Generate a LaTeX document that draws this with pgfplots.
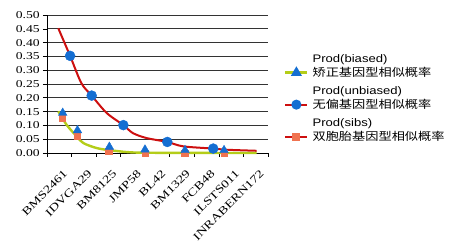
\documentclass[border=0pt]{standalone}
\usepackage{fontspec}
\usepackage{graphicx}
\setmainfont{Liberation Serif}
\newfontfamily\tickfont[FakeStretch=1.3]{Liberation Serif}
\newfontfamily\cjk{Noto Sans CJK SC}
\newfontfamily\lsans[FakeStretch=1.2]{Liberation Sans}
\newcommand\zh[1]{\scalebox{1.2}[1]{\cjk\fontsize{11}{11}\selectfont #1}}
\newcommand\la[1]{{\lsans\fontsize{10.9}{11}\selectfont #1}}
\newcommand\entry[2]{\hspace{3pt}\shortstack[l]{\la{#1}\\\zh{#2}}}
\usepackage{pgfplots}
\pgfplotsset{compat=1.18}
\definecolor{cred}{RGB}{205,15,15}
\definecolor{cyg}{RGB}{180,205,25}
\definecolor{cblue}{RGB}{20,110,210}
\definecolor{corange}{RGB}{240,115,80}
\begin{document}
\begin{tikzpicture}
\begin{axis}[
  name=ax,
  scale only axis, width=221pt, height=138pt,
  xmin=0, xmax=9, ymin=0, ymax=0.5,
  axis lines=left, axis line style={-, black, line width=0.8pt},
  tick align=outside,
  clip=false,
  ytick={0,0.05,...,0.5},
  yticklabel style={/pgf/number format/fixed,/pgf/number format/precision=2,/pgf/number format/fixed zerofill, font=\tickfont\fontsize{10.5}{11}\selectfont, inner sep=1pt, xshift=-2pt},
  /pgf/number format/assume math mode=true,
  ymajorgrids, grid style={black!80, line width=0.8pt},
  y tick style={black, line width=0.6pt},
  major tick length=4pt,
  xtick={0.5,1.5,...,8.5},
  xticklabels={BMS2461,IDVGA29,BM8125,JMP58,BL42,BM1329,FCB48,ILSTS011,INRABERN172},
  major x tick style={draw=none},
  minor xtick={0,1,...,9},
  minor x tick style={black, line width=0.6pt},
  minor tick length=4pt,
  xticklabel style={rotate=45, anchor=north east, font=\tickfont\fontsize{11}{11}\selectfont, inner sep=1pt, xshift=-5pt, yshift=-10pt},
  legend style={draw=none, fill=none, at={(1,1)}, anchor=north west, xshift=15pt, yshift=-37pt, row sep=6pt, inner sep=1pt, nodes={inner sep=1pt}, cells={anchor=base west}},
  legend image code/.code={\draw[#1] (0pt,4pt) -- (22pt,4pt); \draw[#1, mark repeat=2, mark phase=2] plot coordinates {(0pt,4pt)(11pt,4pt)(22pt,4pt)};},
]
\addplot[cred, line width=2pt, smooth, forget plot] coordinates {
(0.46,0.452)(0.94,0.352)(1.4,0.253)(1.82,0.208)(2.43,0.145)(3.11,0.101)(3.5,0.072)(4.06,0.054)(4.9,0.040)(5.55,0.024)(6.77,0.016)(7.25,0.012)(8.54,0.008)};
\addplot[cyg, line width=2.4pt, smooth, forget plot] coordinates {
(0.46,0.151)(0.80,0.102)(1.21,0.06)(1.48,0.036)(2.02,0.018)(2.57,0.010)(3.5,0.002)(5,0.0005)(8.54,0.0)};
\addplot[only marks, mark=square*, mark size=3.2pt, color=corange, forget plot] coordinates {
(0.62,0.127)(1.22,0.060)(2.52,0.006)(3.99,0.0)(5.6,0.0)(7.22,0.0)};
\addplot[only marks, mark=triangle*, mark size=5pt, color=cblue, forget plot] coordinates {
(0.64,0.145)(1.24,0.082)(2.54,0.022)(3.99,0.012)(5.62,0.010)(7.21,0.010)};
\addplot[only marks, mark=*, mark size=5pt, color=cblue, forget plot] coordinates {
(0.94,0.352)(1.82,0.208)(3.11,0.101)(4.9,0.040)(6.77,0.016)};
\addlegendimage{cyg, line width=2.4pt, mark=triangle*, mark size=4pt, mark options={cblue, fill=cblue}}
\addlegendentry{\entry{Prod(biased)}{矫正基因型相似概率}}
\addlegendimage{cred, line width=2pt, mark=*, mark size=4pt, mark options={cblue, fill=cblue}}
\addlegendentry{\entry{Prod(unbiased)}{无偏基因型相似概率}}
\addlegendimage{cred, line width=2pt, mark=square*, mark size=3pt, mark options={corange, fill=corange}}
\addlegendentry{\entry{Prod(sibs)}{双胞胎基因型相似概率}}
\end{axis}
\pgfresetboundingbox
\path ([shift={(-47pt,-92pt)}]ax.south west) rectangle ([shift={(416pt,153pt)}]ax.south west);
\end{tikzpicture}
\end{document}
